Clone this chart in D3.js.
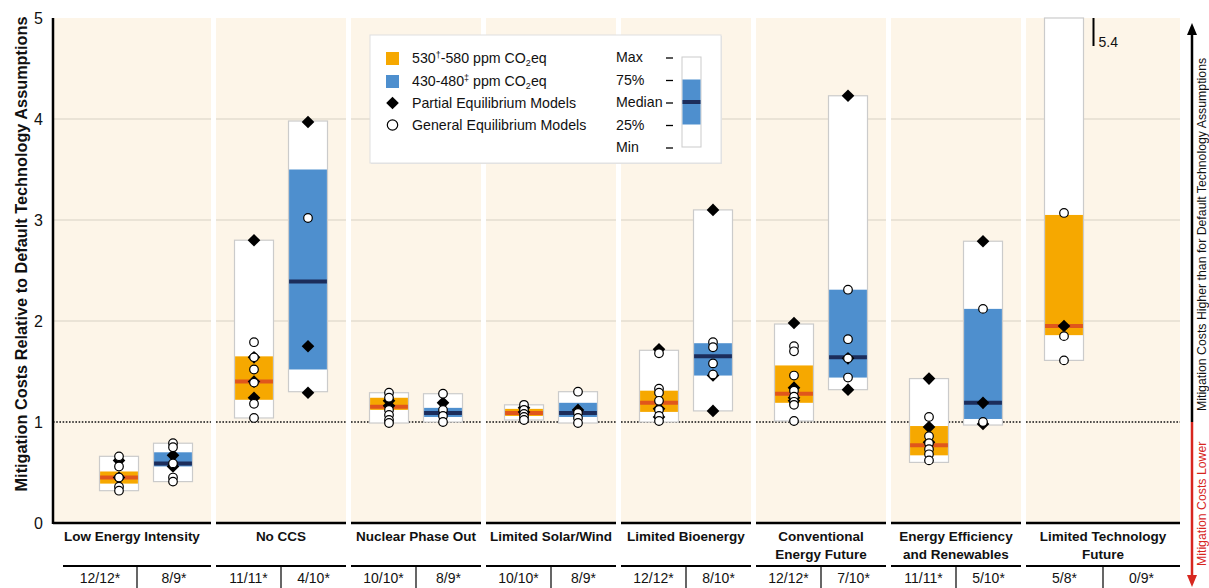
<!DOCTYPE html>
<html>
<head>
<meta charset="utf-8">
<script src="https://cdn.jsdelivr.net/npm/d3@7"></script>
<style>
  html, body { margin: 0; padding: 0; background: #ffffff; }
  svg { display: block; }
  text { font-family: "Liberation Sans Narrow", "Arial Narrow", sans-serif; fill: #111; }
</style>
</head>
<body>
<svg id="chart" width="1209" height="588"></svg>
<script>
// ---------- data ----------
const panelLabels = [
  ["Low Energy Intensity"], ["No CCS"], ["Nuclear Phase Out"], ["Limited Solar/Wind"],
  ["Limited Bioenergy"], ["Conventional", "Energy Future"],
  ["Energy Efficiency", "and Renewables"], ["Limited Technology", "Future"]
];
const yTicks = [0, 1, 2, 3, 4, 5];

// 530-580 ppm CO2eq scenarios
const highMin = [0.32, 1.04, 0.99, 1.02, 1.00, 1.01, 0.60, 1.61];
const highQ1  = [0.39, 1.22, 1.12, 1.06, 1.10, 1.19, 0.67, 1.86];
const highMed = [0.45, 1.40, 1.15, 1.09, 1.19, 1.28, 0.77, 1.95];
const highQ3  = [0.51, 1.65, 1.24, 1.13, 1.31, 1.56, 0.96, 3.05];
const highMax = [0.66, 2.80, 1.29, 1.17, 1.71, 1.97, 1.43, 5.4];
const highPE = [[0.62, 0.45], [2.80, 1.64, 1.40, 1.24], [1.21, 1.16], [1.14, 1.10],
  [1.72, 1.13, 1.05], [1.98, 1.34, 1.24, 1.21], [1.43, 0.95, 0.80], [1.95]];
const highGE = [[0.66, 0.56, 0.45, 0.36, 0.32], [1.79, 1.64, 1.52, 1.39, 1.18, 1.04],
  [1.29, 1.24, 1.12, 1.07, 1.02, 0.99], [1.17, 1.12, 1.08, 1.05, 1.02],
  [1.68, 1.33, 1.29, 1.21, 1.12, 1.06, 1.01], [1.75, 1.70, 1.46, 1.31, 1.25, 1.20, 1.17, 1.01],
  [1.05, 0.86, 0.79, 0.73, 0.68, 0.62], [3.07, 1.85, 1.61]];
const highCounts = ["12/12*", "11/11*", "10/10*", "10/10*", "12/12*", "12/12*", "11/11*", "5/8*"];

// 430-480 ppm CO2eq scenarios
const lowMin = [0.41, 1.30, 1.00, 0.99, 1.11, 1.32, 0.97, null];
const lowQ1  = [0.56, 1.52, 1.05, 1.05, 1.46, 1.44, 1.03, null];
const lowMed = [0.59, 2.39, 1.09, 1.09, 1.65, 1.64, 1.19, null];
const lowQ3  = [0.70, 3.50, 1.14, 1.19, 1.78, 2.31, 2.12, null];
const lowMax = [0.79, 3.98, 1.28, 1.30, 3.10, 4.23, 2.79, null];
const lowPE = [[0.67, 0.56], [3.97, 1.75, 1.29], [1.19], [1.12], [3.10, 1.46, 1.11],
  [4.23, 1.63, 1.32], [2.79, 1.19, 0.98], []];
const lowGE = [[0.79, 0.75, 0.59, 0.45, 0.41], [3.02], [1.28, 1.12, 1.06, 1.00],
  [1.30, 1.09, 1.04, 0.99], [1.79, 1.74, 1.58, 1.47], [2.31, 1.82, 1.63, 1.44], [2.12, 1.00], []];
const lowCounts = ["8/9*", "4/10*", "8/9*", "8/9*", "8/10*", "7/10*", "5/10*", "0/9*"];

// legend glyph statistics (illustrative box)
const legendStats = ["Max", "75%", "Median", "25%", "Min"];

// ---------- setup ----------
const svg = d3.select("#chart");
const C = {
  bg: "#fdf5e8", grid: "#d8d1c4", orange: "#f6a800", red: "#e0561c",
  blue: "#4e8fce", navy: "#1c2d5b", boxLine: "#cbcbcb"
};
const y = d3.scaleLinear().domain([0, 5]).range([523, 18]);
const x = d3.scaleBand().domain(d3.range(8)).range([78.5, 1158.5])
  .paddingInner(5 / 135).paddingOuter(2.5 / 135);
const bw = x.bandwidth();
const panelLeft = i => i === 0 ? 53 : x(i);
const panelRight = i => i === 7 ? 1180 : x(i) + bw;

const scen = [
  { min: highMin, q1: highQ1, med: highMed, q3: highQ3, max: highMax, pe: highPE, ge: highGE,
    off: bw / 2 - 27, fill: C.orange, medC: C.red },
  { min: lowMin, q1: lowQ1, med: lowMed, q3: lowQ3, max: lowMax, pe: lowPE, ge: lowGE,
    off: bw / 2 + 27, fill: C.blue, medC: C.navy }
];
const boxW = 39;

// ---------- panel backgrounds & grid ----------
const panels = svg.append("g").selectAll("g").data(d3.range(8)).join("g");
panels.append("rect")
  .attr("x", i => panelLeft(i)).attr("y", y(5))
  .attr("width", i => panelRight(i) - panelLeft(i)).attr("height", y(0) - y(5))
  .attr("fill", C.bg);
[2, 3, 4].forEach(v => {
  panels.append("line")
    .attr("x1", i => panelLeft(i)).attr("x2", i => panelRight(i))
    .attr("y1", y(v)).attr("y2", y(v))
    .attr("stroke", C.grid).attr("stroke-width", 1.2);
});

// ---------- boxes ----------
scen.forEach(s => {
  const g = svg.append("g");
  const idx = d3.range(8).filter(i => s.min[i] !== null);
  const cx = i => x(i) + s.off;
  const cap = v => Math.min(v, 5);
  g.selectAll("rect.whisk").data(idx).join("rect")
    .attr("x", i => cx(i) - boxW / 2).attr("width", boxW)
    .attr("y", i => y(cap(s.max[i]))).attr("height", i => y(s.min[i]) - y(cap(s.max[i])))
    .attr("fill", "#fff").attr("stroke", C.boxLine).attr("stroke-width", 1.2);
  g.selectAll("rect.iqr").data(idx).join("rect")
    .attr("x", i => cx(i) - boxW / 2 + 0.6).attr("width", boxW - 1.2)
    .attr("y", i => y(s.q3[i])).attr("height", i => y(s.q1[i]) - y(s.q3[i]))
    .attr("fill", s.fill);
  g.selectAll("line.med").data(idx).join("line")
    .attr("x1", i => cx(i) - boxW / 2 + 0.6).attr("x2", i => cx(i) + boxW / 2 - 0.6)
    .attr("y1", i => y(s.med[i])).attr("y2", i => y(s.med[i]))
    .attr("stroke", s.medC).attr("stroke-width", 4);
});

// reference line at 1 (default technology assumptions)
panels.append("line")
  .attr("x1", i => panelLeft(i)).attr("x2", i => panelRight(i))
  .attr("y1", y(1)).attr("y2", y(1))
  .attr("stroke", "#111").attr("stroke-width", 1.6).attr("stroke-dasharray", "1.6,1.6");

// ---------- model points ----------
const diamond = d3.symbol().type(d3.symbolSquare).size(80);
scen.forEach(s => {
  const g = svg.append("g");
  const pe = [], ge = [];
  d3.range(8).forEach(i => {
    s.pe[i].forEach(v => pe.push({ i, v }));
    s.ge[i].forEach(v => ge.push({ i, v }));
  });
  g.selectAll("path").data(pe).join("path")
    .attr("d", diamond)
    .attr("transform", d => `translate(${x(d.i) + s.off},${y(d.v)}) rotate(45)`)
    .attr("fill", "#000");
  g.selectAll("circle").data(ge).join("circle")
    .attr("cx", d => x(d.i) + s.off).attr("cy", d => y(d.v)).attr("r", 4.3)
    .attr("fill", "#fff").attr("stroke", "#000").attr("stroke-width", 1.2);
});

// values beyond the axis range are flagged at the top
scen.forEach(s => {
  d3.range(8).filter(i => s.max[i] !== null && s.max[i] > 5).forEach(i => {
    const lx = x(i) + s.off + boxW / 2 + 10;
    svg.append("line").attr("x1", lx).attr("x2", lx).attr("y1", y(5)).attr("y2", y(5) + 28)
      .attr("stroke", "#000").attr("stroke-width", 2);
    svg.append("text").attr("x", lx + 5).attr("y", y(5) + 29)
      .attr("font-size", 14).text(d3.format(".1f")(s.max[i]));
  });
});

// ---------- axes ----------
const yAxis = svg.append("g").attr("transform", "translate(53,0)")
  .call(d3.axisLeft(y).tickValues(yTicks).tickFormat(d3.format("d")).tickSize(0).tickSizeOuter(0).tickPadding(10));
yAxis.select(".domain").attr("stroke", "#000").attr("stroke-width", 2.5)
  .attr("d", `M0,${y(0) + 1}V${y(5)}`);
yAxis.selectAll(".tick text").attr("font-size", 16)
  .attr("font-family", "'Liberation Sans Narrow', sans-serif").attr("fill", "#111");

svg.append("text")
  .attr("transform", `translate(27,${(y(5) + 490) / 2}) rotate(-90)`)
  .attr("text-anchor", "middle").attr("font-size", 16.3).attr("font-weight", "bold")
  .text("Mitigation Costs Relative to Default Technology Assumptions");

// bottom frame per panel
panels.append("line")
  .attr("x1", i => panelLeft(i)).attr("x2", i => panelRight(i))
  .attr("y1", y(0)).attr("y2", y(0))
  .attr("stroke", "#000").attr("stroke-width", 2.5);

// category labels
const labelMid = i => (panelLeft(i) + panelRight(i)) / 2;
panels.each(function (i) {
  const t = d3.select(this).append("text")
    .attr("text-anchor", "middle").attr("font-size", 13.5).attr("font-weight", "bold");
  panelLabels[i].forEach((line, k) => {
    t.append("tspan").attr("x", labelMid(i)).attr("y", 541 + k * 18).text(line);
  });
});

// model-count row
const rowL = i => i === 0 ? 63 : panelLeft(i);
const rowMid = i => (rowL(i) + panelRight(i)) / 2;
panels.append("line")
  .attr("x1", i => rowL(i)).attr("x2", i => panelRight(i))
  .attr("y1", 566).attr("y2", 566).attr("stroke", "#000").attr("stroke-width", 2);
panels.append("line")
  .attr("x1", i => rowMid(i)).attr("x2", i => rowMid(i))
  .attr("y1", 566).attr("y2", 588).attr("stroke", "#000").attr("stroke-width", 1.2);
panels.append("text")
  .attr("x", i => (rowL(i) + rowMid(i)) / 2).attr("y", 583)
  .attr("text-anchor", "middle").attr("font-size", 14).text(i => highCounts[i]);
panels.append("text")
  .attr("x", i => (rowMid(i) + panelRight(i)) / 2).attr("y", 583)
  .attr("text-anchor", "middle").attr("font-size", 14).text(i => lowCounts[i]);

// ---------- right-hand direction arrow ----------
const ax = 1192;
const arrow = svg.append("g");
arrow.append("line").attr("x1", ax).attr("x2", ax).attr("y1", y(1)).attr("y2", 32)
  .attr("stroke", "#000").attr("stroke-width", 2.5);
arrow.append("path").attr("d", `M${ax},23 L${ax - 5},35 L${ax + 5},35 Z`).attr("fill", "#000");
arrow.append("line").attr("x1", ax).attr("x2", ax).attr("y1", y(1)).attr("y2", 577)
  .attr("stroke", "#d7261e").attr("stroke-width", 2.5);
arrow.append("path").attr("d", `M${ax},587 L${ax - 5},575 L${ax + 5},575 Z`).attr("fill", "#d7261e");
arrow.append("text").attr("transform", `translate(1205.5,411) rotate(-90)`)
  .attr("font-size", 12.3).text("Mitigation Costs Higher than for Default Technology Assumptions");
arrow.append("text").attr("transform", `translate(1205.5,566) rotate(-90)`)
  .attr("font-size", 12.3).style("fill", "#d7261e")
  .text("Mitigation Costs Lower");

// ---------- legend ----------
const lg = svg.append("g").attr("transform", "translate(370,35)");
lg.append("rect").attr("x", 1).attr("y", 1).attr("width", 351).attr("height", 128)
  .attr("fill", "#e4e4e4");
lg.append("rect").attr("width", 351).attr("height", 128)
  .attr("fill", "#fff").attr("stroke", "#e0e0e0");
lg.append("rect").attr("x", 16).attr("y", 17).attr("width", 13).attr("height", 13).attr("fill", C.orange);
lg.append("rect").attr("x", 16).attr("y", 40).attr("width", 13).attr("height", 13).attr("fill", C.blue);
lg.append("path").attr("d", diamond).attr("transform", "translate(22.5,68) rotate(45)").attr("fill", "#000");
lg.append("circle").attr("cx", 22.5).attr("cy", 90).attr("r", 5.2)
  .attr("fill", "#fff").attr("stroke", "#000").attr("stroke-width", 1.2);

const lt1 = lg.append("text").attr("x", 42).attr("y", 28).attr("font-size", 14.2);
lt1.append("tspan").text("530");
lt1.append("tspan").attr("font-size", 9).attr("dy", -5).text("†");
lt1.append("tspan").attr("dy", 5).text("-580 ppm CO");
lt1.append("tspan").attr("font-size", 9).attr("dy", 3).text("2");
lt1.append("tspan").attr("dy", -3).text("eq");
const lt2 = lg.append("text").attr("x", 42).attr("y", 51).attr("font-size", 14.2);
lt2.append("tspan").text("430-480");
lt2.append("tspan").attr("font-size", 9).attr("dy", -5).text("‡");
lt2.append("tspan").attr("dy", 5).text(" ppm CO");
lt2.append("tspan").attr("font-size", 9).attr("dy", 3).text("2");
lt2.append("tspan").attr("dy", -3).text("eq");
lg.append("text").attr("x", 42).attr("y", 73).attr("font-size", 14.2).text("Partial Equilibrium Models");
lg.append("text").attr("x", 42).attr("y", 95).attr("font-size", 14.2).text("General Equilibrium Models");

// legend box glyph
const gy = d3.scaleLinear().domain([0, 4]).range([112, 22]);
const legendVals = [4, 3, 2, 1, 0];
lg.selectAll("text.stat").data(legendStats).join("text")
  .attr("x", 246).attr("y", (d, k) => gy(legendVals[k]) + 5).attr("font-size", 14.2).text(d => d);
lg.selectAll("line.dash").data(legendStats).join("line")
  .attr("x1", 296).attr("x2", 303)
  .attr("y1", (d, k) => gy(legendVals[k]) + 1).attr("y2", (d, k) => gy(legendVals[k]) + 1)
  .attr("stroke", "#000").attr("stroke-width", 1.3);
lg.append("rect").attr("x", 312).attr("y", gy(4)).attr("width", 19).attr("height", gy(0) - gy(4))
  .attr("fill", "#fff").attr("stroke", C.boxLine);
lg.append("rect").attr("x", 312.5).attr("y", gy(3)).attr("width", 18).attr("height", gy(1) - gy(3))
  .attr("fill", C.blue);
lg.append("line").attr("x1", 312.5).attr("x2", 330.5).attr("y1", gy(2)).attr("y2", gy(2))
  .attr("stroke", C.navy).attr("stroke-width", 4);
</script>
</body>
</html>
